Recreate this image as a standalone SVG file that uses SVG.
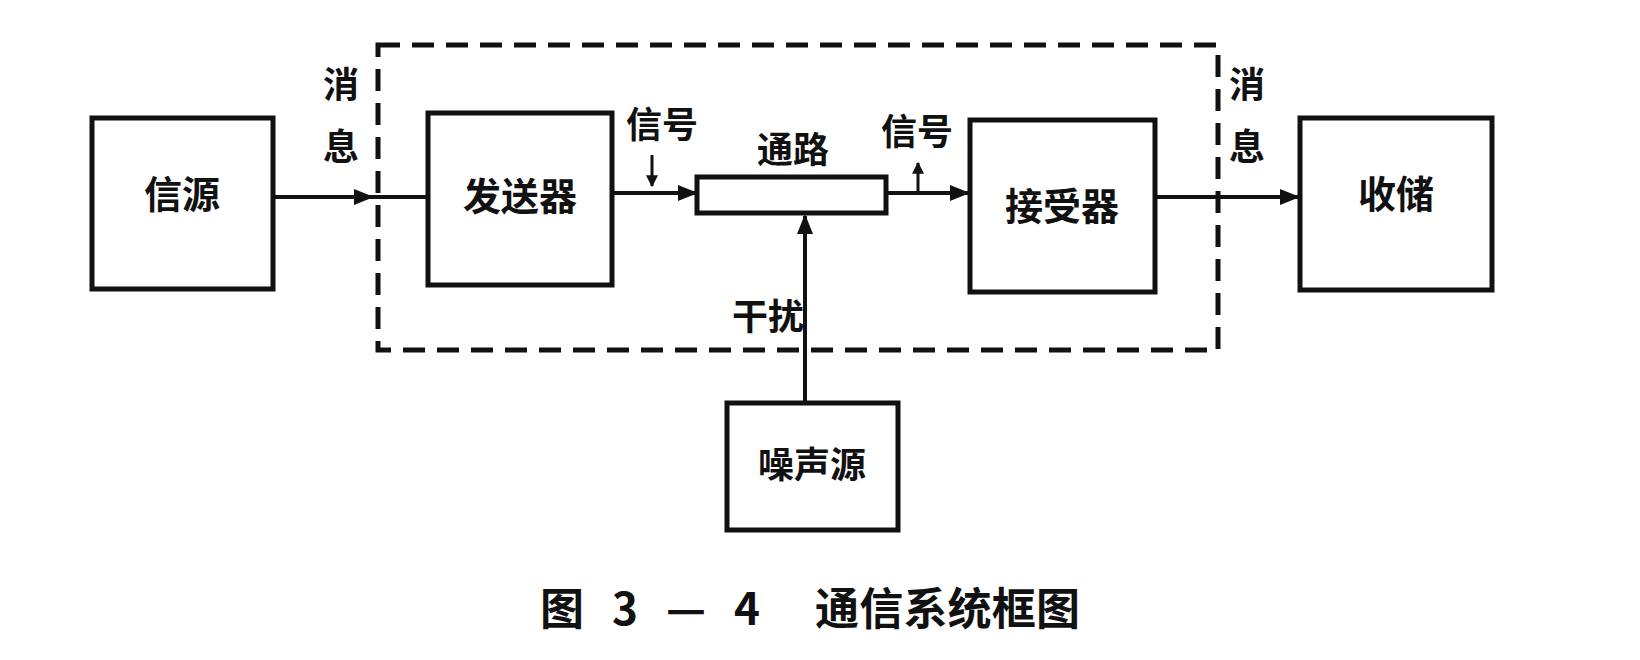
<svg xmlns="http://www.w3.org/2000/svg" width="1640" height="660" viewBox="0 0 1640 660">
<style>
.box{fill:#fff;stroke:#111;stroke-width:5}
.t{font-family:"Noto Sans CJK SC","Liberation Sans",sans-serif;font-weight:bold;fill:#111}
.ln{stroke:#111;stroke-width:4;fill:none}
</style>
<defs>
<marker id="ah" viewBox="0 0 10 10" refX="9" refY="5" markerWidth="5" markerHeight="5" orient="auto"><path d="M0,1 L10,5 L0,9 z" fill="#111"/></marker>
<marker id="sh" viewBox="0 0 10 10" refX="9" refY="5" markerWidth="4" markerHeight="4" orient="auto"><path d="M0,0 L10,5 L0,10 z" fill="#111"/></marker>
</defs>
<rect width="1640" height="660" fill="#fff"/>
<rect x="378" y="45" width="840" height="305" fill="none" stroke="#111" stroke-width="5" stroke-dasharray="22,12"/>
<g id="connectors">
<line class="ln" x1="273" y1="197" x2="372" y2="197" marker-end="url(#ah)"/>
<line class="ln" x1="372" y1="197" x2="428" y2="197"/>
<line class="ln" x1="612" y1="193" x2="696" y2="193" marker-end="url(#ah)"/>
<line class="ln" x1="886" y1="193" x2="968" y2="193" marker-end="url(#ah)"/>
<line class="ln" x1="1155" y1="197" x2="1298" y2="197" marker-end="url(#ah)"/>
<line class="ln" x1="805" y1="403" x2="805" y2="216" marker-end="url(#ah)"/>
<line stroke="#111" stroke-width="3" x1="652" y1="155" x2="652" y2="186" marker-end="url(#sh)"/>
<line stroke="#111" stroke-width="3" x1="918" y1="192" x2="918" y2="163" marker-end="url(#sh)"/>
</g>
<g id="n-xinyuan"><rect class="box" x="92" y="118" width="181" height="171"/><text class="t" x="182" y="208" font-size="38" text-anchor="middle">信源</text></g>
<g id="n-fasong"><rect class="box" x="428" y="113" width="184" height="172"/><text class="t" x="520" y="210" font-size="38" text-anchor="middle">发送器</text></g>
<g id="n-tonglu"><rect class="box" x="697" y="177" width="189" height="36"/></g>
<g id="n-jieshou"><rect class="box" x="970" y="120" width="185" height="172"/><text class="t" x="1062" y="220" font-size="38" text-anchor="middle">接受器</text></g>
<g id="n-shouchu"><rect class="box" x="1300" y="118" width="192" height="172"/><text class="t" x="1396" y="208" font-size="38" text-anchor="middle">收储</text></g>
<g id="n-zaosheng"><rect class="box" x="727" y="403" width="171" height="127"/><text class="t" x="812" y="478" font-size="36" text-anchor="middle">噪声源</text></g>
<g id="labels">
<text class="t" x="341" y="98" font-size="36" text-anchor="middle">消</text>
<text class="t" x="341" y="160" font-size="36" text-anchor="middle">息</text>
<text class="t" x="1247" y="98" font-size="36" text-anchor="middle">消</text>
<text class="t" x="1247" y="160" font-size="36" text-anchor="middle">息</text>
<text class="t" x="662" y="138" font-size="36" text-anchor="middle">信号</text>
<text class="t" x="793" y="163" font-size="36" text-anchor="middle">通路</text>
<text class="t" x="917" y="145" font-size="36" text-anchor="middle">信号</text>
<text class="t" x="768" y="330" font-size="36" text-anchor="middle">干扰</text>
<text class="t" x="540" y="625" font-size="44" textLength="220" lengthAdjust="spacing">图 3 — 4</text>
<text class="t" x="815" y="625" font-size="44" textLength="265" lengthAdjust="spacing">通信系统框图</text>
</g>
</svg>
